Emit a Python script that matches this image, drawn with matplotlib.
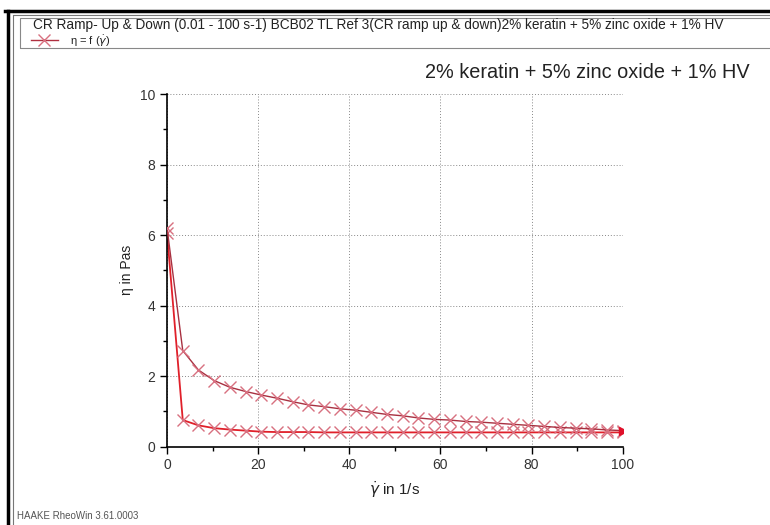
"""Viscosity curve, CR ramp up & down (HAAKE RheoWin style export)."""

import matplotlib

matplotlib.use("Agg")
import matplotlib.pyplot as plt  # noqa: E402
from matplotlib.lines import Line2D  # noqa: E402
from matplotlib.patches import Rectangle  # noqa: E402

plt.rcParams["font.family"] = ["Liberation Sans", "DejaVu Sans"]

# shear rate, ramp up (1/s)
rate_up = [0.01, 3.46, 6.90, 10.35, 13.80, 17.25, 20.70, 24.14, 27.59, 31.04,
           34.49, 37.94, 41.38, 44.83, 48.28, 51.73, 55.18, 58.62, 62.07, 65.52,
           68.97, 72.42, 75.86, 79.31, 82.76, 86.21, 89.66, 93.11, 96.55, 100.0]
eta_up = [6.20, 2.72, 2.17, 1.87, 1.68, 1.56, 1.46, 1.37, 1.27, 1.18,
          1.13, 1.07, 1.03, 0.97, 0.91, 0.87, 0.81, 0.77, 0.75, 0.71,
          0.69, 0.66, 0.63, 0.60, 0.57, 0.54, 0.52, 0.50, 0.47, 0.45]

# shear rate, ramp down (1/s)
rate_down = [100.0, 96.55, 93.11, 89.66, 86.21, 82.76, 79.31, 75.86, 72.42, 68.97,
             65.52, 62.07, 58.62, 55.18, 51.73, 48.28, 44.83, 41.38, 37.94, 34.49,
             31.04, 27.59, 24.14, 20.70, 17.25, 13.80, 10.35, 6.90, 3.46, 0.01]
eta_down = [0.40, 0.40, 0.40, 0.40, 0.40, 0.40, 0.40, 0.40, 0.40, 0.40,
            0.40, 0.40, 0.40, 0.40, 0.40, 0.40, 0.40, 0.40, 0.40, 0.40,
            0.41, 0.41, 0.41, 0.42, 0.45, 0.48, 0.52, 0.60, 0.75, 6.05]

header = ("CR Ramp- Up & Down (0.01 - 100 s-1) BCB02 TL Ref 3(CR ramp up & down)"
          "2% keratin + 5% zinc oxide + 1% HV")
sample = "2% keratin + 5% zinc oxide + 1% HV"

W, H = 770, 525
fig = plt.figure(figsize=(W / 100, H / 100), dpi=100)

# window frame and legend box (pixel coords -> figure fraction)
fig.add_artist(Line2D([5 / W, 1], [1 - 11 / H] * 2, color="black", lw=2.5))
fig.add_artist(Line2D([8 / W] * 2, [0, 1 - 11 / H], color="black", lw=2.5))
fig.add_artist(Line2D([14 / W, 1], [1 - 15 / H] * 2, color="#777777", lw=0.8))
fig.add_artist(Line2D([13 / W] * 2, [0, 1 - 15 / H], color="#777777", lw=0.8))
fig.add_artist(Rectangle((20 / W, 1 - 48 / H), 1, 30 / H, fill=False,
                         edgecolor="#888888", lw=0.8))
fig.text(33 / W, 1 - 25 / H, header, fontsize=9.8, va="center", color="#222222")
fig.add_artist(Line2D([31 / W, 58 / W], [1 - 40 / H] * 2, color="#b03040", lw=1))
fig.add_artist(Line2D([44 / W], [1 - 40 / H], marker="x", color="#d87080",
                      markersize=8, mew=1))
fig.text(70 / W, 1 - 41 / H, r"η = f ($\dot{\gamma}$)", fontsize=8,
         va="center", color="#222222")
fig.text(750 / W, 1 - 73 / H, sample, fontsize=14.3, ha="right", va="center",
         color="#222222")
fig.text(17 / W, 1 - 516 / H, "HAAKE RheoWin 3.61.0003", fontsize=7,
         va="center", color="#555555")

ax = fig.add_axes([167 / W, 1 - 446.5 / H, 455.7 / W, 352.5 / H])

ax.plot(rate_up, eta_up, color="#a83040", lw=1.0, marker="x", markersize=8,
        markeredgecolor="#d87080", mew=1.0, zorder=3)
ax.plot(rate_down, eta_down, color="#e0202a", lw=1.3, marker="x", markersize=8,
        markeredgecolor="#d87080", mew=1.0, zorder=2)
ax.plot(rate_up[-1], eta_up[-1], marker=">", color="#e0102a", markersize=6,
        zorder=4)

ax.set_xlim(0, 100)
ax.set_ylim(0, 10)
ax.set_xticks([0, 20, 40, 60, 80, 100])
ax.set_yticks([0, 2, 4, 6, 8, 10])
ax.set_xticks([10, 30, 50, 70, 90], minor=True)
ax.set_yticks([1, 3, 5, 7, 9], minor=True)
ax.tick_params(which="major", direction="out", length=5, width=1,
               labelsize=10, labelcolor="#333333")
ax.tick_params(which="minor", direction="out", length=3, width=1)
ax.grid(True, which="major", linestyle=(0, (1, 2)), color="#888888", lw=0.7)
for side in ("top", "right"):
    ax.spines[side].set_visible(False)
for side in ("left", "bottom"):
    ax.spines[side].set_linewidth(1.2)

ax.set_xlabel(r"$\dot{\gamma}$ in 1/s", fontsize=11, color="#222222", labelpad=5)
ax.set_ylabel("η in Pas", fontsize=10, color="#222222", labelpad=4)

fig.savefig("out.png", dpi=100)
